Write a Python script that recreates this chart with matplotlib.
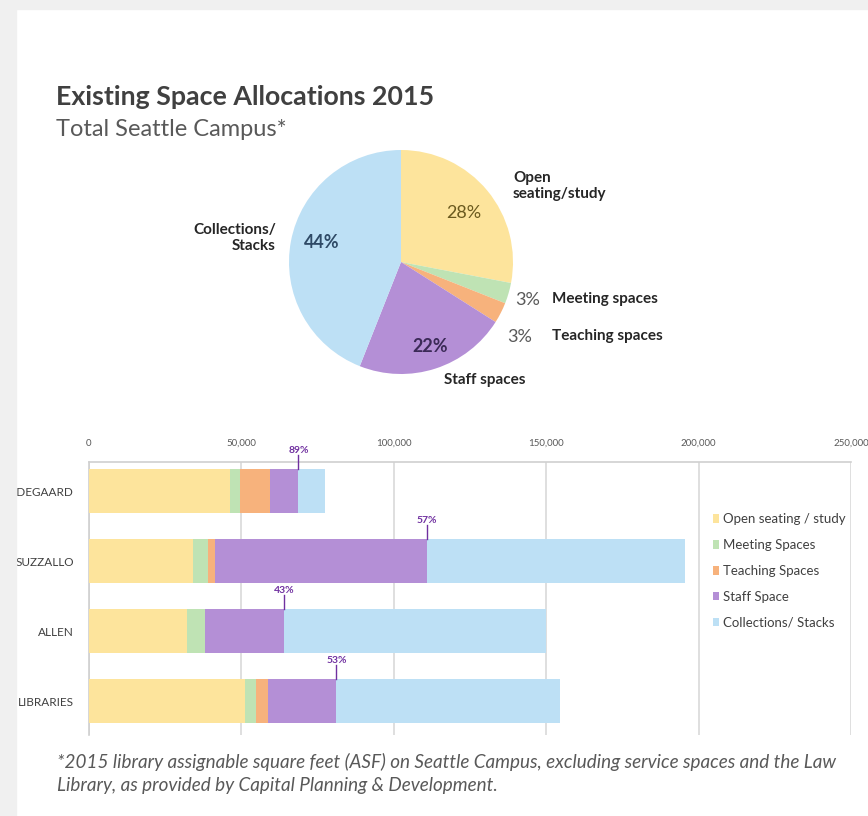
import matplotlib.pyplot as plt
import numpy as np

# Pie: share of total Seattle campus space (%)
pie_labels = ['Open seating/study', 'Meeting spaces', 'Teaching spaces', 'Staff spaces', 'Collections/ Stacks']
pie_values = [28, 3, 3, 22, 44]

# Bars: assignable square feet per library
libraries = ['ODEGAARD', 'SUZZALLO', 'ALLEN', 'LIBRARIES']
open_seating = [46400, 34200, 32000, 51300]
meeting = [3200, 4700, 6200, 3600]
teaching = [9900, 2500, 0, 3800]
staff = [9200, 69500, 25800, 22500]
collections = [8600, 84500, 86000, 73300]
series_names = ['Open seating / study', 'Meeting Spaces', 'Teaching Spaces', 'Staff Space', 'Collections/ Stacks']

colors = ['#fde49c', '#bfe3b4', '#f7b27c', '#b48fd6', '#bde0f5']

plt.rcParams['font.family'] = ['Lato', 'DejaVu Sans']

fig = plt.figure(figsize=(8.68, 8.16), dpi=100)
W, H = 868, 816

# grey frame left/top
fig.patches.append(plt.Rectangle((0, 0), 16 / W, 1, transform=fig.transFigure, color='#f0f0f0', zorder=10))
fig.patches.append(plt.Rectangle((0, 1 - 9 / H), 1, 9 / H, transform=fig.transFigure, color='#f0f0f0', zorder=10))

fig.text(56 / W, 1 - 97 / H, 'Existing Space Allocations 2015', fontsize=19.3, fontweight='bold',
         color='#404040', va='center')
fig.text(56 / W, 1 - 130 / H, 'Total Seattle Campus*', fontsize=17, color='#595959', va='center')

# ---- pie ----
cx, cy, r = 401, 262, 112
pw, ph = 500, 250
ax_p = fig.add_axes([(cx - pw / 2) / W, 1 - (cy + ph / 2) / H, pw / W, ph / H])
ax_p.pie(pie_values, colors=colors, startangle=90, counterclock=False, radius=1,
         wedgeprops=dict(linewidth=0))
ax_p.set_aspect('auto')
ax_p.set_xlim(-pw / 2 / r, pw / 2 / r)
ax_p.set_ylim(-ph / 2 / r, ph / 2 / r)
ax_p.axis('off')

def P(px, py):
    return (px - cx) / r, (cy - py) / r

lbl = dict(fontsize=11, fontweight='bold', color='#262626')
ax_p.text(*P(513, 186), 'Open\nseating/study', ha='left', va='center', linespacing=1.25, **lbl)
ax_p.text(*P(276, 238), 'Collections/\nStacks', ha='right', va='center', linespacing=1.25, **lbl)
ax_p.text(*P(552, 299), 'Meeting spaces', ha='left', va='center', **lbl)
ax_p.text(*P(552, 336), 'Teaching spaces', ha='left', va='center', **lbl)
ax_p.text(*P(485, 380), 'Staff spaces', ha='center', va='center', **lbl)

pct = dict(ha='center', va='center', fontsize=13)
ax_p.text(*P(464, 213), f'{pie_values[0]}%', color='#6b5a1e', **pct)
ax_p.text(*P(528, 300), f'{pie_values[1]}%', color='#595959', **pct)
ax_p.text(*P(520, 337), f'{pie_values[2]}%', color='#595959', **pct)
ax_p.text(*P(430, 347), f'{pie_values[3]}%', color='#3b2a57', fontweight='bold', **pct)
ax_p.text(*P(322, 243), f'{pie_values[4]}%', color='#2f4a66', fontweight='bold', **pct)

# ---- stacked bars ----
left_px, right_px, top_px, bot_px = 89, 851, 462, 735
ax = fig.add_axes([left_px / W, 1 - bot_px / H, (right_px - left_px) / W, (bot_px - top_px) / H])
y = np.arange(len(libraries))
bar_h = 0.63
series = [open_seating, meeting, teaching, staff, collections]
base = np.zeros(len(libraries))
for vals, c, name in zip(series, colors, series_names):
    ax.barh(y, vals, left=base, height=bar_h, color=c, label=name, zorder=3)
    base = base + np.array(vals)

# share of space that is not collections, marked at end of staff segment
non_coll = np.array(open_seating) + np.array(meeting) + np.array(teaching) + np.array(staff)
totals = base
for i in range(len(libraries)):
    share = round(100 * non_coll[i] / totals[i])
    top = i - bar_h / 2
    ax.plot([non_coll[i], non_coll[i]], [top, top - 0.2], color='#7030a0', lw=1, zorder=4, clip_on=False)
    ax.text(non_coll[i], top - 0.2, f'{share}%', ha='center', va='bottom', fontsize=7.5,
            fontweight='bold', color='#7030a0', clip_on=False)

ax.set_xlim(0, 250000)
ax.set_ylim(3 + 34 / 70, -29 / 70)
ax.set_xticks(np.arange(0, 250001, 50000))
ax.xaxis.tick_top()
ax.set_xticklabels([f'{v:,}' for v in range(0, 250001, 50000)], fontsize=7, color='#595959')
ax.tick_params(axis='x', length=0, pad=10)
ax.set_yticks(y)
ax.set_yticklabels(libraries, fontsize=8.5, color='#404040')
ax.tick_params(axis='y', length=0, pad=11)
ax.grid(axis='x', color='#d9d9d9', lw=1.2, zorder=0)
for s in ['bottom', 'right']:
    ax.spines[s].set_visible(False)
for s in ['top', 'left']:
    ax.spines[s].set_color('#d0d0d0')
    ax.spines[s].set_linewidth(1.2)

leg = ax.legend(loc='upper left', bbox_to_anchor=((708 - left_px) / (right_px - left_px), 1 - (508 - top_px) / (bot_px - top_px)),
                frameon=False, fontsize=9.5, handlelength=0.4, handleheight=0.6, handletextpad=0.35,
                labelspacing=1.05, borderaxespad=0)
for t in leg.get_texts():
    t.set_color('#404040')

foot = dict(fontsize=13.6, style='italic', color='#595959', va='center')
fig.text(57 / W, 1 - 762 / H,
         '*2015 library assignable square feet (ASF) on Seattle Campus, excluding service spaces and the Law', **foot)
fig.text(57 / W, 1 - 785 / H, 'Library, as provided by Capital Planning & Development.', **foot)

fig.savefig('out.png', dpi=100, facecolor='white')
